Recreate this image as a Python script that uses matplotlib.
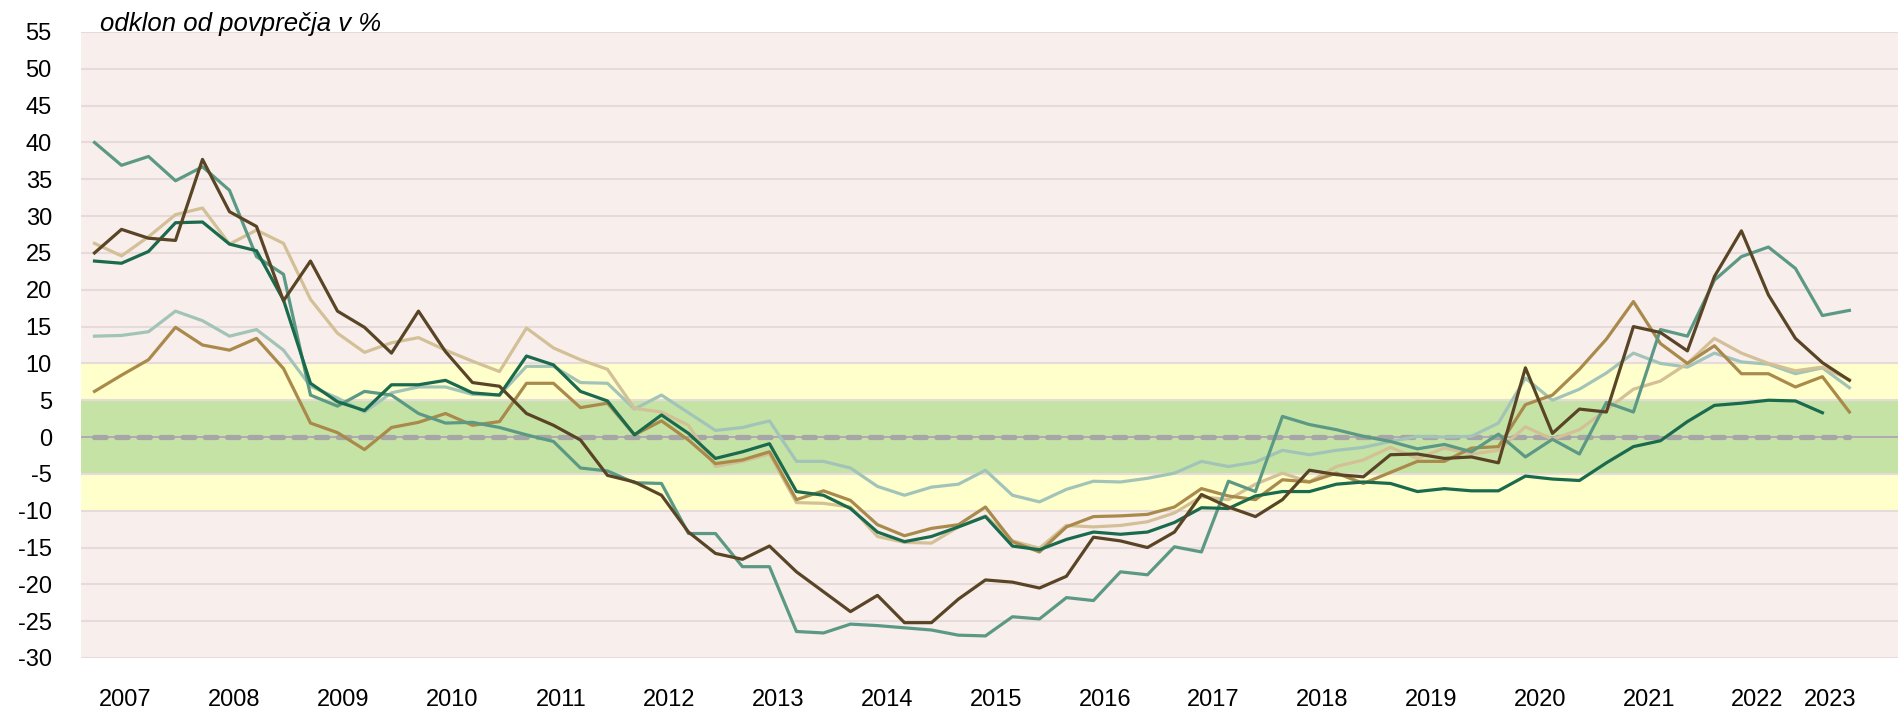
import matplotlib
matplotlib.use("Agg")
import matplotlib.pyplot as plt
import numpy as np

# quarterly observations 2007Q1 .. 2023Q2
years = [str(y) for y in range(2007, 2024)]

s_dark_green = [23.9, 23.6, 25.2, 29.1, 29.2, 26.2, 25.3, 18.6, 7.3, 4.8, 3.6, 7.1, 7.1, 7.7, 6.0, 5.7,
                11.0, 9.8, 6.2, 4.9, 0.3, 3.0, 0.5, -2.9, -2.0, -0.9, -7.4, -7.9, -9.7, -12.9, -14.2, -13.5,
                -12.2, -10.8, -14.8, -15.3, -13.9, -12.9, -13.2, -12.9, -11.6, -9.6, -9.7, -8.0, -7.4, -7.4, -6.4, -6.1,
                -6.3, -7.4, -7.0, -7.3, -7.3, -5.3, -5.7, -5.9, -3.5, -1.3, -0.5, 2.1, 4.3, 4.6, 5.0, 4.9,
                3.3, None]
s_teal = [40.0, 36.9, 38.1, 34.8, 36.7, 33.5, 24.5, 22.1, 5.7, 4.2, 6.2, 5.7, 3.2, 1.9, 2.0, 1.3,
          0.3, -0.6, -4.2, -4.6, -6.2, -6.3, -13.1, -13.1, -17.6, -17.6, -26.4, -26.6, -25.4, -25.6, -25.9, -26.2,
          -26.9, -27.0, -24.4, -24.7, -21.8, -22.2, -18.3, -18.7, -14.9, -15.6, -6.0, -7.4, 2.8, 1.7, 1.0, 0.1,
          -0.6, -1.6, -1.0, -2.0, 0.4, -2.7, -0.3, -2.3, 4.7, 3.4, 14.6, 13.7, 21.3, 24.5, 25.8, 22.9,
          16.5, 17.2]
s_brown = [25.0, 28.2, 27.0, 26.7, 37.7, 30.6, 28.6, 18.5, 23.9, 17.1, 14.9, 11.4, 17.1, 11.6, 7.4, 6.9,
           3.2, 1.6, -0.4, -5.2, -6.1, -7.9, -12.9, -15.8, -16.6, -14.8, -18.3, -21.0, -23.7, -21.5, -25.2, -25.2,
           -22.0, -19.4, -19.7, -20.5, -18.9, -13.6, -14.1, -15.0, -12.9, -7.8, -9.5, -10.8, -8.5, -4.5, -5.1, -5.4,
           -2.4, -2.3, -2.9, -2.7, -3.5, 9.4, 0.5, 3.8, 3.4, 15.0, 14.2, 11.7, 21.8, 28.0, 19.3, 13.4,
           10.1, 7.7]
s_tan = [26.3, 24.6, 27.2, 30.2, 31.1, 26.2, 28.1, 26.3, 18.7, 14.1, 11.5, 12.8, 13.5, 11.8, 10.3, 8.9,
         14.8, 12.1, 10.5, 9.2, 3.9, 3.4, 1.6, -4.0, -3.3, -2.3, -8.9, -9.0, -9.5, -13.5, -14.3, -14.4,
         -12.2, -10.7, -14.1, -15.1, -12.0, -12.2, -12.0, -11.5, -10.3, -8.1, -8.5, -6.4, -4.9, -6.1, -4.0, -3.1,
         -1.4, -2.9, -1.5, -2.3, -1.8, 1.4, -0.3, 1.0, 3.7, 6.5, 7.6, 10.0, 13.4, 11.4, 10.0, 9.0,
         9.5, 7.8]
s_golden = [6.2, 8.4, 10.5, 14.9, 12.5, 11.8, 13.4, 9.3, 1.9, 0.6, -1.7, 1.3, 2.0, 3.2, 1.6, 2.1,
            7.3, 7.3, 4.0, 4.6, 0.3, 2.2, -0.4, -3.6, -3.1, -2.0, -8.5, -7.3, -8.6, -11.9, -13.4, -12.4,
            -11.9, -9.5, -14.2, -15.6, -12.2, -10.8, -10.7, -10.5, -9.5, -7.0, -8.0, -8.5, -5.8, -6.1, -4.9, -6.3,
            -4.8, -3.3, -3.3, -1.5, -1.3, 4.4, 5.7, 9.2, 13.3, 18.4, 12.7, 10.0, 12.4, 8.6, 8.6, 6.8,
            8.2, 3.4]
s_light_blue = [13.7, 13.8, 14.3, 17.1, 15.8, 13.7, 14.6, 11.8, 6.9, 5.3, 3.4, 6.0, 6.8, 6.8, 5.8, 5.7,
                9.6, 9.6, 7.4, 7.3, 3.8, 5.7, 3.3, 0.9, 1.3, 2.2, -3.3, -3.3, -4.2, -6.7, -7.9, -6.8,
                -6.4, -4.5, -7.9, -8.8, -7.1, -6.0, -6.1, -5.6, -4.9, -3.3, -4.0, -3.4, -1.8, -2.4, -1.8, -1.4,
                -0.6, 0.1, 0.0, 0.1, 1.9, 8.0, 5.0, 6.5, 8.7, 11.4, 10.0, 9.5, 11.4, 10.2, 9.9, 8.6,
                9.4, 6.7]
zero_ref = [0.0] * 66

y_ticks = list(range(-30, 60, 5))
title_text = "odklon od povprečja v %"

plt.rcParams['font.family'] = ['Liberation Sans Narrow', 'Liberation Sans', 'DejaVu Sans']

fig = plt.figure(figsize=(18.98, 7.10), dpi=100)
ax = fig.add_axes([81 / 1898, 52 / 710, 1 - 81 / 1898, 626 / 710])

n = len(s_teal)
x = np.arange(n)

ax.set_xlim(-0.5, 66.8)
ax.set_ylim(-30, 55)

# background zones
ax.axhspan(-30, 55, color='#f8eeec', zorder=0, lw=0)
ax.axhspan(-10, 10, color='#ffffcc', zorder=0.1, lw=0)
ax.axhspan(-5, 5, color='#c6e3a6', zorder=0.2, lw=0)
for t in y_ticks:
    ax.axhline(t, color='#e6dada', lw=1.5, zorder=0.3)
ax.axhline(0, color='#a9a0a8', lw=1.2, zorder=0.4)

ax.plot(x, zero_ref, color='#a6a6a6', lw=3.8, dashes=(2.2, 2.0),
        dash_capstyle='round', zorder=1)

def series(vals):
    return np.array([np.nan if v is None else v for v in vals], dtype=float)

lw = 2.3
ax.plot(x, series(s_light_blue), color='#a2c4b8', lw=lw, zorder=2)
ax.plot(x, series(s_tan), color='#d3c096', lw=lw, zorder=2.1)
ax.plot(x, series(s_golden), color='#a98a4b', lw=lw, zorder=2.2)
ax.plot(x, series(s_teal), color='#5c9985', lw=lw, zorder=2.3)
ax.plot(x, series(s_dark_green), color='#1a6a4d', lw=lw, zorder=2.4)
ax.plot(x, series(s_brown), color='#594525', lw=lw, zorder=2.5)

ax.set_yticks(y_ticks)
ax.set_yticklabels([str(t) for t in y_ticks])
ax.tick_params(axis='y', length=0, pad=21, labelsize=17)

xpos = [4.03 * i + 1.15 for i in range(len(years) - 1)] + [64.3]
ax.set_xticks(xpos)
ax.set_xticklabels(years)
ax.tick_params(axis='x', length=0, pad=22, labelsize=17)

for sp in ax.spines.values():
    sp.set_visible(False)

fig.text(100 / 1898, 1 - 31 / 710, title_text, fontsize=18.5, style='italic',
         ha='left', va='baseline')

fig.savefig('out.png', dpi=100)
